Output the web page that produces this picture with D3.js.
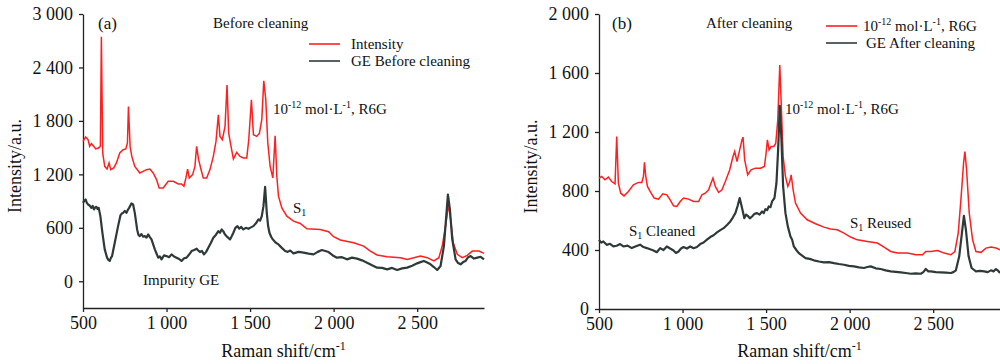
<!DOCTYPE html>
<html>
<head>
<meta charset="utf-8">
<script src="https://cdn.jsdelivr.net/npm/d3@7"></script>
<style>
  body { margin: 0; background: #fff; }
  svg { display: block; font-family: "Liberation Serif", "Times New Roman", serif; }
</style>
</head>
<body>
<svg id="chart" width="1000" height="364"></svg>
<script>
// x ticks shared by both panels
const shiftTicks = [500, 1000, 1500, 2000, 2500];
const beforeTicks = [0, 600, 1200, 1800, 2400, 3000];
const afterTicks = [0, 400, 800, 1200, 1600, 2000];

// (a) before cleaning: [Raman shift, intensity]
const beforeR6G = [
  [500, 1570], [516, 1620], [530, 1590], [540, 1515], [550, 1545], [564, 1515], [576, 1485],
  [592, 1495], [604, 1515], [610, 2745], [618, 1440], [630, 1290], [644, 1260], [656, 1328],
  [666, 1253], [684, 1272], [700, 1328], [720, 1440], [740, 1477], [756, 1485], [766, 1552],
  [772, 1962], [782, 1514], [792, 1402], [810, 1290], [840, 1216], [880, 1253], [900, 1260],
  [920, 1216], [940, 1141], [956, 1048], [980, 1048], [1010, 1123], [1040, 1123], [1070, 1093],
  [1090, 1093], [1104, 1067], [1116, 1160], [1126, 1260], [1136, 1160], [1156, 1197], [1170, 1290],
  [1180, 1514], [1192, 1365], [1204, 1272], [1220, 1160], [1240, 1160], [1260, 1253], [1280, 1402],
  [1296, 1570], [1310, 1869], [1320, 1626], [1334, 1589], [1350, 1738], [1362, 2204], [1372, 1663],
  [1384, 1533], [1400, 1373], [1420, 1447], [1440, 1402], [1460, 1384], [1480, 1384], [1492, 1589],
  [1508, 2037], [1520, 1645], [1540, 1626], [1556, 1663], [1570, 1813], [1582, 2249], [1594, 2037],
  [1606, 1552], [1620, 1290], [1636, 1160], [1650, 1634], [1660, 1179], [1670, 955], [1690, 824],
  [1720, 731], [1760, 675], [1800, 649], [1840, 589], [1920, 582], [1970, 556], [2000, 500],
  [2040, 463], [2120, 433], [2180, 395], [2220, 339], [2260, 295], [2320, 276], [2400, 265],
  [2440, 246], [2520, 283], [2560, 265], [2600, 228], [2630, 265], [2650, 395], [2670, 619],
  [2688, 862], [2700, 694], [2716, 433], [2740, 302], [2770, 265], [2800, 291], [2830, 339],
  [2870, 339], [2900, 313]
];
const beforeGE = [
  [500, 880], [508, 905], [516, 918], [523, 880], [530, 862], [540, 850], [550, 824], [558, 845],
  [566, 806], [573, 828], [580, 836], [587, 812], [594, 824], [604, 731],
  [616, 545], [630, 358], [644, 265], [652, 240], [660, 228], [667, 262], [674, 283], [690, 433],
  [710, 619], [724, 739], [732, 760], [740, 768], [750, 790], [760, 768], [768, 800], [776, 824],
  [790, 873], [800, 862], [810, 768], [824, 582], [832, 520], [840, 507], [850, 530], [860, 500],
  [870, 507], [880, 490], [890, 526], [900, 495], [910, 470], [930, 358], [950, 265], [960, 280],
  [970, 246], [985, 290], [1000, 283], [1015, 270], [1030, 302], [1045, 278], [1060, 265],
  [1075, 250], [1090, 228], [1105, 258], [1120, 265], [1135, 300], [1150, 339], [1165, 352],
  [1180, 366], [1190, 345], [1200, 328], [1212, 340], [1224, 302], [1237, 330], [1250, 376],
  [1265, 430], [1280, 489], [1295, 520], [1310, 563], [1320, 545], [1330, 582], [1340, 560],
  [1350, 526], [1365, 495], [1380, 470], [1390, 505], [1400, 545], [1412, 600], [1424, 619],
  [1435, 590], [1447, 610], [1460, 582], [1475, 600], [1490, 589], [1505, 605], [1520, 619],
  [1535, 650], [1550, 694], [1560, 680], [1570, 731], [1580, 843],
  [1590, 1059], [1600, 768], [1608, 620], [1616, 545], [1626, 500], [1636, 470], [1650, 440],
  [1660, 425], [1670, 414], [1690, 375], [1710, 339], [1725, 330], [1740, 345], [1760, 313],
  [1790, 330], [1820, 321], [1850, 310], [1880, 302], [1905, 330], [1930, 351], [1950, 340],
  [1970, 328], [1995, 290], [2020, 265], [2050, 270], [2080, 246], [2110, 265], [2140, 254],
  [2170, 235], [2200, 209], [2230, 180], [2260, 153], [2290, 150], [2320, 134], [2350, 150],
  [2380, 127], [2410, 145], [2440, 153], [2470, 175], [2500, 201], [2520, 215], [2540, 228],
  [2560, 210], [2580, 190], [2600, 160], [2620, 127], [2640, 172], [2660, 395], [2674, 731],
  [2684, 973], [2696, 806], [2710, 470], [2730, 246], [2745, 205], [2760, 190], [2775, 215],
  [2790, 228], [2805, 270], [2820, 283], [2840, 255], [2860, 265], [2880, 275], [2900, 246]
];

// (b) after cleaning
const afterR6G = [
  [500, 887], [516, 898], [536, 876], [556, 894], [576, 864], [596, 849], [606, 1169], [616, 853],
  [630, 785], [650, 767], [676, 797], [706, 842], [736, 858], [756, 858], [766, 898], [772, 995],
  [780, 898], [790, 831], [806, 797], [830, 752], [856, 745], [882, 781], [906, 774], [926, 740],
  [946, 700], [966, 695], [986, 729], [1006, 752], [1036, 745], [1066, 729], [1096, 729],
  [1116, 774], [1136, 785], [1156, 808], [1170, 853], [1182, 887], [1196, 831], [1216, 790],
  [1236, 808], [1256, 864], [1282, 943], [1302, 1034], [1312, 1068], [1326, 1000], [1342, 1079],
  [1356, 1147], [1362, 1165], [1372, 1011], [1390, 910], [1410, 943], [1436, 955], [1466, 955],
  [1490, 966], [1500, 1056], [1508, 1147], [1518, 1079], [1530, 1101], [1546, 1101], [1558, 1124],
  [1570, 1282], [1582, 1654], [1592, 1350], [1602, 1034], [1616, 898], [1630, 831], [1642, 864],
  [1650, 910], [1662, 808], [1676, 718], [1706, 650], [1746, 605], [1796, 578], [1846, 555],
  [1886, 542], [1926, 537], [1966, 515], [2006, 488], [2046, 469], [2106, 458], [2166, 447],
  [2206, 420], [2246, 390], [2286, 379], [2346, 379], [2396, 368], [2436, 368], [2456, 390],
  [2486, 390], [2526, 397], [2566, 379], [2606, 368], [2630, 390], [2650, 515], [2666, 740],
  [2682, 989], [2690, 1068], [2700, 943], [2716, 650], [2736, 469], [2756, 390], [2786, 384],
  [2816, 413], [2846, 420], [2876, 413], [2900, 402]
];
const afterGE = [
  [500, 469], [513, 450], [526, 458], [546, 435], [566, 442], [586, 425], [606, 429], [626, 440],
  [646, 424], [671, 430], [696, 413], [721, 425], [746, 436], [766, 420], [786, 413], [806, 405],
  [826, 397], [846, 385], [866, 413], [886, 400], [906, 424], [926, 410], [946, 397], [961, 380],
  [976, 390], [991, 410], [1006, 420], [1026, 410], [1046, 424], [1066, 412], [1086, 420],
  [1106, 440], [1126, 451], [1146, 470], [1166, 488], [1186, 500], [1206, 519], [1226, 535],
  [1246, 548], [1266, 570], [1286, 594], [1301, 620], [1316, 650], [1330, 700],
  [1342, 752], [1354, 695], [1370, 616], [1380, 640], [1390, 632], [1403, 615], [1416, 627],
  [1431, 645], [1446, 650], [1461, 640], [1476, 661], [1486, 650], [1496, 677], [1506, 670],
  [1516, 695], [1526, 690], [1536, 729], [1550, 752], [1562, 853], [1572, 1079], [1582, 1377],
  [1592, 1147], [1602, 831], [1616, 650], [1630, 560], [1646, 492], [1656, 470], [1666, 424],
  [1681, 400], [1696, 379], [1716, 362], [1736, 345], [1761, 340], [1786, 330], [1816, 322],
  [1846, 316], [1876, 318], [1906, 311], [1936, 305], [1966, 300], [1996, 292], [2026, 289],
  [2056, 282], [2086, 278], [2106, 285], [2126, 289], [2156, 276], [2186, 271], [2216, 262],
  [2246, 255], [2276, 252], [2306, 248], [2336, 244], [2366, 239], [2396, 242], [2426, 239],
  [2441, 250], [2456, 271], [2471, 255], [2486, 255], [2516, 250], [2546, 248], [2576, 246],
  [2606, 244], [2621, 250], [2636, 262], [2656, 357], [2672, 515], [2684, 632],
  [2696, 537], [2712, 357], [2730, 278], [2756, 255], [2781, 258], [2806, 255], [2826, 250],
  [2846, 262], [2861, 255], [2876, 271], [2890, 258], [2900, 244]
];

const RED = "#ff1f1f";
const GREY = "#2e3a38";

function spaced(v) {
  return d3.format(",")(v).replace(/,/g, " ");
}

/**
 * Draw one panel
 */
function drawPanel(svg, opt) {
  let x = d3.scaleLinear().domain([500, 2900]).range([opt.left, opt.right]);
  let y = d3.scaleLinear().domain(opt.yDomain).range([opt.bottom, opt.top]);

  let g = svg.append("g");

  g.append("g")
    .attr("transform", `translate(0,${opt.bottom})`)
    .call(d3.axisBottom(x).tickValues(shiftTicks).tickSize(4).tickSizeOuter(0).tickPadding(4).tickFormat(spaced))
    .attr("font-family", null).attr("font-size", 18)
    .call(a => a.selectAll("text").attr("fill", "#111"));

  g.append("g")
    .attr("transform", `translate(${opt.left},0)`)
    .call(d3.axisLeft(y).tickValues(opt.yTicks).tickSize(4).tickSizeOuter(0).tickPadding(6).tickFormat(spaced))
    .attr("font-family", null).attr("font-size", 18)
    .call(a => a.selectAll("text").attr("fill", "#111"));

  g.selectAll(".domain, .tick line").attr("stroke", "#222").attr("stroke-width", 1.3);

  let line = d3.line().x(d => x(d[0])).y(d => y(d[1]));

  g.append("path").datum(opt.red)
    .attr("d", line).attr("fill", "none").attr("stroke", RED).attr("stroke-width", 1.5);
  g.append("path").datum(opt.grey)
    .attr("d", line).attr("fill", "none").attr("stroke", GREY).attr("stroke-width", 2.2)
    .attr("stroke-linejoin", "round");

  // axis titles
  g.append("text")
    .attr("transform", `translate(${opt.yTitleX},${(opt.top + opt.bottom) / 2 + 5}) rotate(-90)`)
    .attr("text-anchor", "middle").attr("font-size", 18).attr("fill", "#111")
    .text("Intensity/a.u.");

  let xt = g.append("text")
    .attr("x", (opt.left + opt.right) / 2).attr("y", 357)
    .attr("text-anchor", "middle").attr("font-size", 18).attr("fill", "#111");
  xt.append("tspan").text("Raman shift/cm");
  xt.append("tspan").attr("dy", -7).attr("font-size", 12).text("-1");

  // legend
  opt.legend.forEach(function(item, i) {
    let ly = opt.legendY + i * 17;
    g.append("line")
      .attr("x1", opt.legendX).attr("x2", opt.legendX + 31)
      .attr("y1", ly).attr("y2", ly)
      .attr("stroke", item.color).attr("stroke-width", 1.6);
    let t = g.append("text")
      .attr("x", item.tx).attr("y", ly + 5)
      .attr("font-size", 15).attr("fill", "#111");
    item.parts(t);
  });

  return { x, y, g };
}

function concText(t) {
  t.append("tspan").text("10");
  t.append("tspan").attr("dy", -6).attr("font-size", 10).text("-12");
  t.append("tspan").attr("dy", 6).text(" mol·L");
  t.append("tspan").attr("dy", -6).attr("font-size", 10).text("-1");
  t.append("tspan").attr("dy", 6).text(", R6G");
}

function subText(t, rest) {
  t.append("tspan").text("S");
  t.append("tspan").attr("dy", 3).attr("font-size", 10).text("1");
  t.append("tspan").attr("dy", -3).text(rest);
}

function label(g, x, y, size, fn) {
  let t = g.append("text").attr("x", x).attr("y", y).attr("font-size", size).attr("fill", "#111");
  fn(t);
  return t;
}

let svg = d3.select("#chart");

let a = drawPanel(svg, {
  left: 83, right: 484, top: 14, bottom: 308,
  yDomain: [-300, 3000], yTicks: beforeTicks,
  red: beforeR6G, grey: beforeGE, yTitleX: 21,
  legendX: 309, legendY: 44,
  legend: [
    { color: RED, tx: 351, parts: t => t.text("Intensity") },
    { color: GREY, tx: 351, parts: t => t.text("GE Before cleaning") }
  ]
});
label(a.g, 98, 29, 17, t => t.text("(a)"));
label(a.g, 213, 28, 15, t => t.text("Before cleaning"));
label(a.g, 273, 114, 15, concText);
label(a.g, 293, 213, 15, t => subText(t, ""));
label(a.g, 143, 285, 15, t => t.text("Impurity GE"));

let b = drawPanel(svg, {
  left: 599, right: 1000, top: 14, bottom: 309,
  yDomain: [0, 2000], yTicks: afterTicks,
  red: afterR6G, grey: afterGE, yTitleX: 537,
  legendX: 826, legendY: 26,
  legend: [
    { color: RED, tx: 863, parts: concText },
    { color: GREY, tx: 866, parts: t => t.text("GE After cleaning") }
  ]
});
label(b.g, 612, 29, 17, t => t.text("(b)"));
label(b.g, 706, 28, 15, t => t.text("After cleaning"));
label(b.g, 785, 114, 15, concText);
label(b.g, 629, 236, 15, t => subText(t, " Cleaned"));
label(b.g, 850, 228, 15, t => subText(t, " Reused"));
</script>
</body>
</html>
